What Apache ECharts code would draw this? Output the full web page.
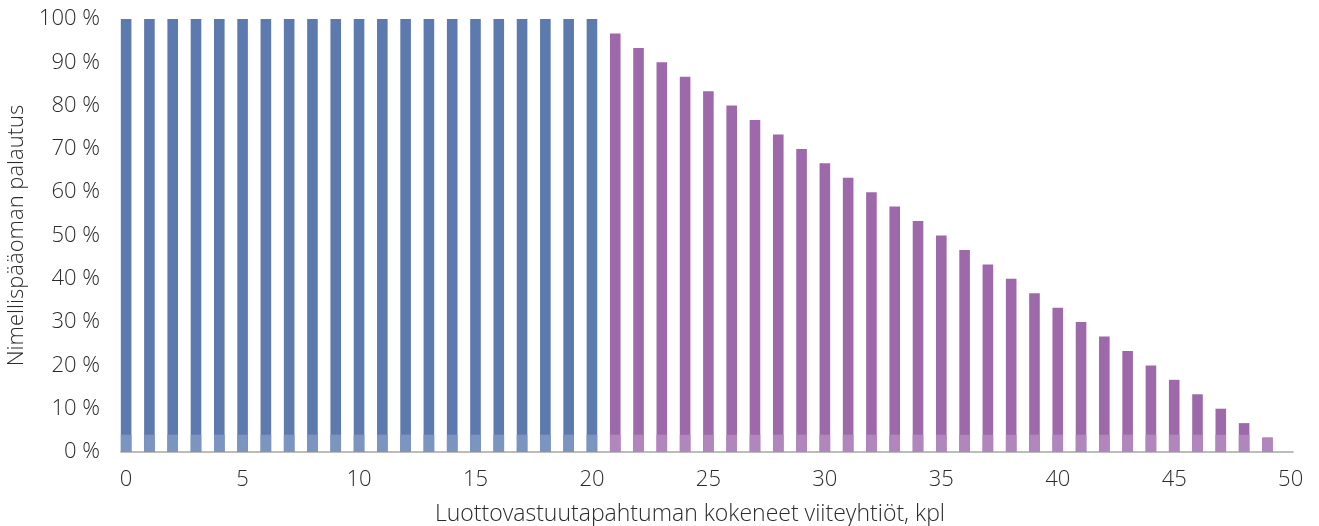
<!DOCTYPE html>
<html>
<head>
<meta charset="utf-8">
<script src="https://cdn.jsdelivr.net/npm/echarts@6/dist/echarts.min.js"></script>
<style>
html,body{margin:0;padding:0;background:#fff;}
#chart{width:1319px;height:526px;}
</style>
</head>
<body>
<div id="chart"></div>
<script>
// Number of reference companies with a credit event
const companies = [0,1,2,3,4,5,6,7,8,9,10,11,12,13,14,15,16,17,18,19,20,21,22,23,24,25,26,27,28,29,30,31,32,33,34,35,36,37,38,39,40,41,42,43,44,45,46,47,48,49];
// Principal repayment, %
const repayment = [100,100,100,100,100,100,100,100,100,100,100,100,100,100,100,100,100,100,100,100,100,
  96.67,93.33,90,86.67,83.33,80,76.67,73.33,70,66.67,63.33,60,56.67,53.33,50,46.67,43.33,40,36.67,33.33,30,26.67,23.33,20,16.67,13.33,10,6.67,3.33];
const fullRepaymentLimit = 20;
const baseBand = 4; // lighter band at bottom of each bar, %
const xTicks = [0,5,10,15,20,25,30,35,40,45,50];
const yTicks = [0,10,20,30,40,50,60,70,80,90,100];

const colors = {blue:'#5c7aad', blueLight:'#7c95c0', purple:'#9e69ab', purpleLight:'#b086bd'};
const font = '"Open Sans", Lato, sans-serif';
const textColor = '#2b2b2b';
const fs = 22;

const mainData = companies.map((c,i)=>({value:[c, repayment[i]], itemStyle:{color: c<=fullRepaymentLimit?colors.blue:colors.purple}}));
const bandData = companies.map((c,i)=>({value:[c, Math.min(repayment[i], baseBand)], itemStyle:{color: c<=fullRepaymentLimit?colors.blueLight:colors.purpleLight}}));

const chart = echarts.init(document.getElementById('chart'));
chart.setOption({
  animation:false,
  grid:{left:121, right:26, top:19, bottom:74, containLabel:false, outerBoundsMode:'none'},
  xAxis:{
    type:'value', min:-0.22, max:50.1,
    splitLine:{show:false},
    axisTick:{show:false},
    axisLine:{show:true, lineStyle:{color:'#a6a6a6', width:1.5}},
    axisLabel:{customValues:xTicks, margin:17, fontSize:fs, fontFamily:font, fontWeight:300, color:textColor},
    name:'Luottovastuutapahtuman kokeneet viiteyhtiöt, kpl',
    nameLocation:'middle', nameGap:51,
    nameTextStyle:{fontSize:23, fontFamily:font, fontWeight:300, color:textColor, padding:[0,34,0,0]}
  },
  yAxis:{
    type:'value', min:0, max:100, interval:10,
    splitLine:{show:false},
    axisLine:{show:false}, axisTick:{show:false},
    axisLabel:{customValues:yTicks, formatter: v=>v+' %', margin:21, fontSize:fs, fontFamily:font, fontWeight:300, color:textColor},
    name:'Nimellispääoman palautus',
    nameLocation:'middle', nameGap:93, nameRotate:90,
    nameTextStyle:{fontSize:fs, fontFamily:font, fontWeight:300, color:textColor}
  },
  series:[
    {type:'bar', data:mainData, barWidth:10.6, barGap:'-100%', z:2},
    {type:'bar', data:bandData, barWidth:10.6, barGap:'-100%', z:3}
  ]
});
</script>
</body>
</html>
